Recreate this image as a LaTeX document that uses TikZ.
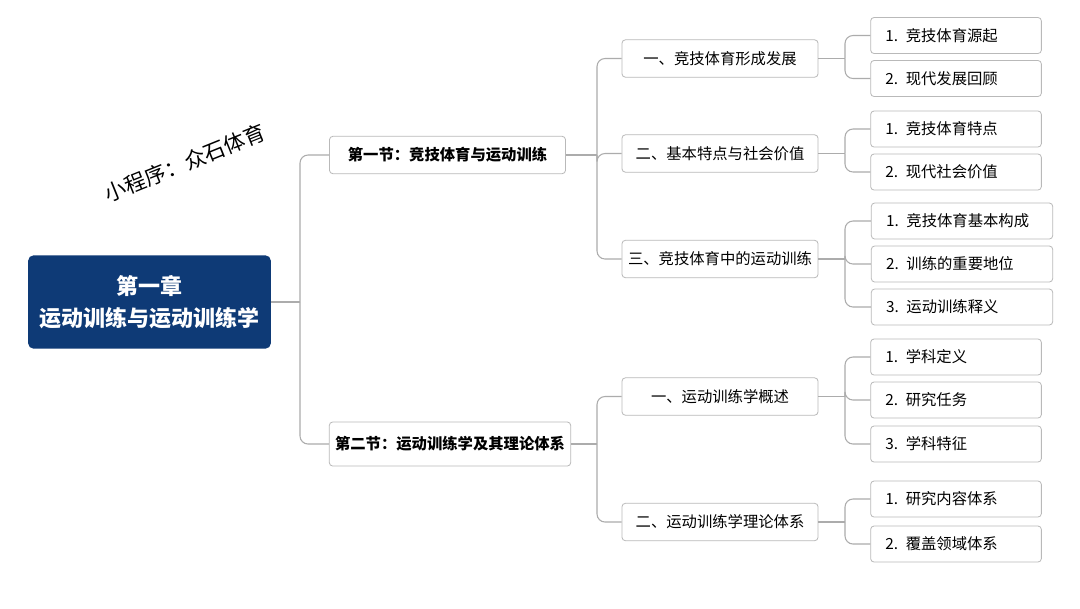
\documentclass[tikz,border=0pt]{standalone}
\usepackage{fontspec}
\setmainfont{Noto Sans CJK SC}
\begin{document}
\begin{tikzpicture}[x=0.75pt,y=-0.75pt,
  box/.style={draw=gray!55,line width=0.6pt,rounded corners=2.5pt,fill=white,inner sep=0pt,font=\fontsize{11.5}{13}\selectfont},
  conn/.style={draw=gray!65,line width=0.8pt,rounded corners=6pt}]
\useasboundingbox (0,0) rectangle (1080,608);
\fill[white] (0,0) rectangle (1080,608);
% root
\node[draw=none,fill={rgb,255:red,14;green,58;blue,118},rounded corners=4pt,minimum width=182pt,minimum height=70pt,text=white,align=center,font=\bfseries\fontsize{16.5}{24}\selectfont] (root) at (149.5,302) {第一章\\运动训练与运动训练学};
\node[rotate=22,font=\fontsize{16}{18}\selectfont] (wm) at (185,163) {小程序：众石体育};
% sections
\node[box,minimum width=177pt,minimum height=28pt,font=\bfseries\fontsize{11.5}{13}\selectfont] (s1) at (447.5,155) {第一节：竞技体育与运动训练};
\node[box,minimum width=181pt,minimum height=33pt,font=\bfseries\fontsize{11.5}{13}\selectfont] (s2) at (450,444) {第二节：运动训练学及其理论体系};
% level 2
\foreach \n/\y/\t in {a/58.5/一、竞技体育形成发展, b/153.5/二、基本特点与社会价值, c/259/三、竞技体育中的运动训练, d/396.5/一、运动训练学概述, e/522/二、运动训练学理论体系}
  \node[box,minimum width=147pt,minimum height=28pt] (\n) at (720,\y) {\t};
% leaves
\foreach \n/\y/\w/\xc/\t in {a1/35.5/128/956/1. 竞技体育源起, a2/78.5/128/956/2. 现代发展回顾, b1/129/128/956/1. 竞技体育特点, b2/172/128/956/2. 现代社会价值, c1/221/136/962/1. 竞技体育基本构成, c2/264/136/962/2. 训练的重要地位, c3/307/136/962/3. 运动训练释义, d1/357/128/956/1. 学科定义, d2/400/128/956/2. 研究任务, d3/444/128/956/3. 学科特征, e1/499/128/956/1. 研究内容体系, e2/544/128/956/2. 覆盖领域体系}
  \node[box,minimum width=\w pt,minimum height=27pt,text width={\w pt-22pt}] (\n) at (\xc,\y) {\t};
% connectors
\draw[conn,rounded corners=0pt] (root.east) -- (300,302);
\foreach \s in {s1,s2} \draw[conn] (300,302) |- (\s.west);
\draw[conn,rounded corners=0pt] (s1.east) -- (597,155);
\foreach \s in {a,b,c} \draw[conn] (597,155) |- (\s.west);
\draw[conn,rounded corners=0pt] (s2.east) -- (597,444);
\foreach \s in {d,e} \draw[conn] (597,444) |- (\s.west);
\foreach \p in {a,b,c,d,e} \draw[conn,rounded corners=0pt] (\p.east) -- (845,0|-\p.east) coordinate (j\p);
\foreach \p/\l in {a/a1,a/a2,b/b1,b/b2,c/c1,c/c2,c/c3,d/d1,d/d2,d/d3,e/e1,e/e2}
  \draw[conn] (j\p) |- (\l.west);
\end{tikzpicture}
\end{document}
